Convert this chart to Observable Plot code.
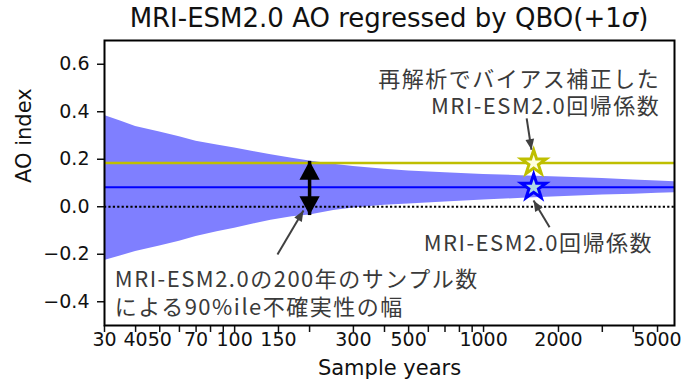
<!DOCTYPE html>
<html>
<head>
<meta charset="utf-8">
<script src="https://cdn.jsdelivr.net/npm/d3@7"></script>
<script src="https://cdn.jsdelivr.net/npm/@observablehq/plot@0.6"></script>
<style>
  body { margin: 0; background: #fff; }
  #title {
    width: 570px; height: 36px; padding: 0 8px 0 104px;
    font-family: 'DejaVu Sans', sans-serif; font-size: 26px; line-height: 36px;
    text-align: center; color: #111; white-space: nowrap;
  }
  #title i { font-style: oblique; }
  #chart svg { display: block; }
</style>
</head>
<body>
<div id="title">MRI-ESM2.0 AO regressed by QBO(+1<i>σ</i>)</div>
<div id="chart"></div>
<script>
// ---- data ----
const years = [30, 35, 40, 50, 60, 70, 85, 100, 120, 140, 170, 200, 250, 300, 400, 500, 700, 1000, 1500, 2000, 3000, 4000, 5000, 5850];
const upper = [0.384, 0.36, 0.338, 0.315, 0.295, 0.276, 0.26, 0.247, 0.232, 0.219, 0.204, 0.193, 0.179, 0.17, 0.158, 0.151, 0.143, 0.136, 0.13, 0.125, 0.119, 0.113, 0.108, 0.105];
const lower = [-0.226, -0.206, -0.188, -0.165, -0.145, -0.125, -0.105, -0.09, -0.072, -0.057, -0.042, -0.035, -0.016, -0.005, 0.006, 0.012, 0.02, 0.028, 0.037, 0.042, 0.049, 0.053, 0.057, 0.059];
const modelCoef = 0.082;       // MRI-ESM2.0 regression coefficient (blue)
const correctedCoef = 0.184;   // bias-corrected coefficient (yellow)
const starYear = 1590;
const arrowYear = 200;

const xTicks = [30, 40, 50, 60, 70, 80, 90, 100, 150, 200, 300, 400, 500, 600, 700, 800, 900, 1000, 2000, 3000, 4000, 5000];
const xTickLabels = [30, 40, 50, 70, 100, 150, 300, 500, 1000, 2000, 5000];
const yTicks = [-0.4, -0.2, 0.0, 0.2, 0.4, 0.6];

const noteTopLines = ["再解析でバイアス補正した", "MRI-ESM2.0回帰係数"];
const noteBottom = "MRI-ESM2.0回帰係数";
const noteLeftLines = ["MRI-ESM2.0の200年のサンプル数", "による90%ile不確実性の幅"];

// annotation pointers (data coordinates)
const pointers = [
  {x1: 1490, y1: 0.372, x2: 1558, y2: 0.240},
  {x1: 1842, y1: -0.086, x2: 1588, y2: 0.026},
  {x1: 148.6, y1: -0.201, x2: 189, y2: -0.016}
];
const pointerAngles = [80.8, -120.6, -59.4]; // screen heading of each pointer (deg)

// ---- build ----
const band = years.map((year, i) => ({year, lo: lower[i], hi: upper[i]}));
const k = years.indexOf(arrowYear);
const arrowTop = upper[k], arrowBottom = lower[k];

const tipUp = {draw(ctx, size) { const r = Math.sqrt(size / Math.PI);
  ctx.moveTo(0, 0); ctx.lineTo(-1.35 * r, 2.5 * r); ctx.lineTo(1.35 * r, 2.5 * r); ctx.closePath(); }};
const tipDown = {draw(ctx, size) { const r = Math.sqrt(size / Math.PI);
  ctx.moveTo(0, 0); ctx.lineTo(-1.35 * r, -2.5 * r); ctx.lineTo(1.35 * r, -2.5 * r); ctx.closePath(); }};
function headSymbol(deg) {
  const a = deg * Math.PI / 180, ux = Math.cos(a), uy = Math.sin(a);
  return {draw(ctx, size) {
    const r = Math.sqrt(size / Math.PI), L = 2.3 * r, W = 0.95 * r;
    ctx.moveTo(0, 0);
    ctx.lineTo(-L * ux + W * uy, -L * uy - W * ux);
    ctx.lineTo(-L * ux - W * uy, -L * uy + W * ux);
    ctx.closePath();
  }};
}

const noteFont = "'Noto Sans CJK JP', sans-serif";
const noteColor = "#3a3a3a";

const chart = Plot.plot({
  width: 682, height: 352,
  marginTop: 4, marginBottom: 63, marginLeft: 104, marginRight: 8,
  style: {fontFamily: "'DejaVu Sans', sans-serif", fontSize: "19px", color: "#111", background: "#fff"},
  x: {type: "log", domain: [30, 5850]},
  y: {domain: [-0.5, 0.7]},
  marks: [
    Plot.areaY(band, {x: "year", y1: "lo", y2: "hi", fill: "#7f7fff"}),
    Plot.ruleY([correctedCoef], {stroke: "#bfbf00", strokeWidth: 2.5}),
    Plot.ruleY([modelCoef], {stroke: "#0000ff", strokeWidth: 2}),
    Plot.ruleY([0], {stroke: "black", strokeWidth: 2.2, strokeDasharray: "2.2,2.2"}),
    // double arrow at 200 years
    Plot.link([0], {x1: () => arrowYear, x2: () => arrowYear, y1: () => arrowTop, y2: () => arrowBottom, stroke: "black", strokeWidth: 3.5}),
    Plot.dot([0], {x: () => arrowYear, y: () => arrowTop, symbol: tipUp, r: 7.5, fill: "black", stroke: "none"}),
    Plot.dot([0], {x: () => arrowYear, y: () => arrowBottom, symbol: tipDown, r: 7.5, fill: "black", stroke: "none"}),
    // stars
    Plot.dot([correctedCoef], {x: () => starYear, y: d => d, symbol: "star", r: 7.8, fill: "#ffffe0", stroke: "#bfbf00", strokeWidth: 3}),
    Plot.dot([modelCoef], {x: () => starYear, y: d => d, symbol: "star", r: 7.8, fill: "#add8e6", stroke: "#0000ff", strokeWidth: 3}),
    // pointers
    Plot.link(pointers, {x1: "x1", y1: "y1", x2: "x2", y2: "y2", stroke: "#404040", strokeWidth: 2}),
    ...pointers.map((p, i) => Plot.dot([p], {x: "x2", y: "y2", symbol: headSymbol(pointerAngles[i]), r: 4.6, fill: "#404040", stroke: "none"})),
    // notes
    Plot.text(noteTopLines, {x: () => 5130, y: (d, i) => [0.532, 0.419][i], textAnchor: "end", fontSize: 22, fontFamily: noteFont, fill: noteColor}),
    Plot.text([noteBottom], {x: () => 1660, y: () => -0.156, textAnchor: "middle", fontSize: 22, fontFamily: noteFont, fill: noteColor}),
    Plot.text(noteLeftLines, {x: () => 33, y: (d, i) => [-0.31, -0.428][i], textAnchor: "start", fontSize: 22, fontFamily: noteFont, fill: noteColor}),
    // axes
    Plot.axisX({ticks: xTicks, tickSize: 7, tickFormat: () => "", label: null, strokeWidth: 1.5}),
    Plot.text(xTickLabels, {x: d => d, frameAnchor: "bottom", dy: 20, fontSize: 19, text: d => `${d}`}),
    Plot.axisY({ticks: yTicks, tickSize: 7, tickPadding: 8, tickFormat: d3.format(".1f"), label: null, strokeWidth: 1.5, fontSize: 19}),
    Plot.text(["Sample years"], {frameAnchor: "bottom", dy: 49, fontSize: 21}),
    Plot.text(["AO index"], {frameAnchor: "left", dx: -80, rotate: -90, fontSize: 21}),
    Plot.frame({stroke: "black", strokeWidth: 2})
  ]
});
chart.querySelectorAll("g[font-family]").forEach(g => {
  if (g.getAttribute("font-family").includes("Noto")) g.style.letterSpacing = "1.5px";
});
document.getElementById("chart").appendChild(chart);
</script>
</body>
</html>
